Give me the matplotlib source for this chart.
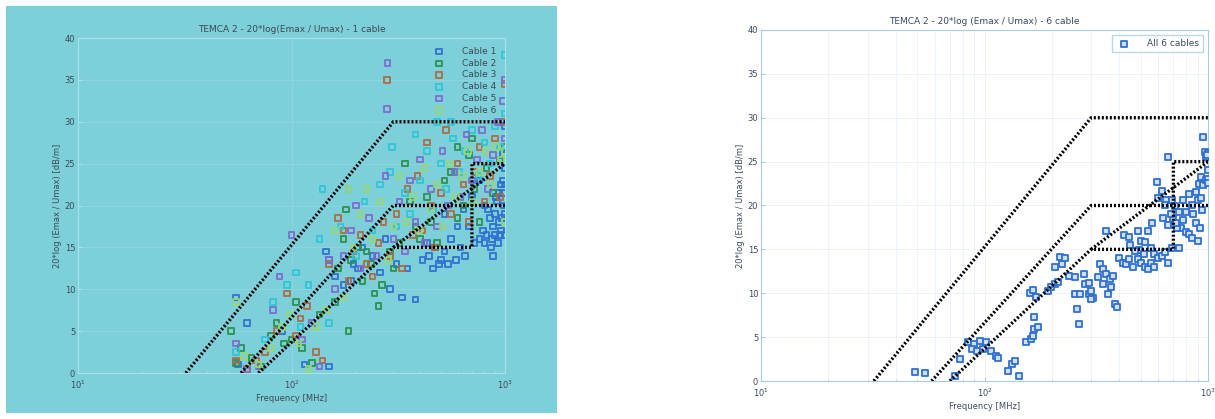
import matplotlib
matplotlib.use('Agg')
from matplotlib import pyplot as plt

# limit lines (frequency MHz, dB)
lim_a_f = [32, 300, 1000]
lim_a_db = [0, 30, 30]
lim_b_f = [58, 300, 1000]
lim_b_db = [0, 20, 20]
lim_c_f = [70, 300, 700, 700, 1000]
lim_c_db = [0, 15, 15, 25, 25]
lim_d_f = [300, 1000]
lim_d_db = [15, 25]

cable1 = [(55, 9.0), (56, 1.0), (62, 6.0), (90, 5.0), (115, 1.0), (150, 0.8), (145, 14.5), (150, 13.5),
          (160, 11.5), (175, 10.5), (190, 11.0), (195, 13.0), (205, 12.5), (215, 15.0), (240, 14.0),
          (260, 12.0), (275, 16.0), (290, 10.0), (310, 13.0), (330, 9.0), (350, 12.5), (380, 8.8),
          (410, 13.5), (440, 14.0), (470, 15.0), (490, 13.0), (520, 14.5), (540, 13.0), (560, 16.0),
          (590, 13.5), (620, 15.0), (650, 14.0), (680, 17.5), (720, 15.5), (760, 16.0), (790, 17.0),
          (820, 16.5), (850, 18.5), (880, 17.5), (900, 19.0), (920, 20.5), (940, 21.5), (960, 22.5),
          (980, 23.0), (1000, 24.5), (1000, 22.5), (990, 20.0), (970, 18.5), (950, 16.5), (930, 15.5),
          (870, 16.0), (830, 19.5), (800, 20.0), (980, 26.0), (1000, 29.5), (760, 23.0), (700, 21.0),
          (640, 19.5), (600, 17.5), (520, 19.0), (860, 15.0), (900, 16.5), (960, 17.0), (1000, 19.0),
          (940, 18.0), (910, 21.0), (980, 21.5), (1000, 16.5), (880, 14.0), (800, 15.5), (460, 12.5),
          (500, 13.5), (430, 15.5)]
cable2 = [(52, 5.0), (55, 1.2), (58, 3.0), (65, 1.8), (72, 0.8), (80, 4.5), (85, 6.0), (92, 3.5),
          (100, 4.0), (105, 8.5), (112, 3.0), (125, 1.2), (135, 7.0), (160, 8.5), (165, 12.5), (175, 16.0),
          (180, 19.5), (185, 5.0), (190, 13.5), (205, 15.0), (215, 11.0), (225, 14.5), (235, 13.0),
          (245, 9.5), (255, 8.0), (265, 10.5), (290, 14.5), (300, 12.5), (320, 15.5), (340, 25.0),
          (360, 20.5), (380, 17.5), (400, 16.0), (430, 21.0), (450, 18.0), (480, 15.5), (520, 23.0),
          (560, 24.0), (600, 18.5), (640, 20.0), (680, 26.0), (720, 22.0), (760, 18.0), (820, 24.5),
          (880, 21.5), (950, 25.5), (1000, 27.0), (700, 28.0), (600, 27.0)]
cable3 = [(55, 1.5), (62, 0.5), (68, 1.5), (75, 2.5), (85, 5.0), (95, 9.5), (105, 4.5), (110, 6.5),
          (118, 8.0), (130, 2.5), (140, 1.5), (150, 13.0), (165, 18.5), (175, 17.0), (185, 11.0),
          (195, 14.5), (210, 16.5), (225, 13.0), (240, 11.5), (255, 15.5), (270, 18.0), (280, 35.0),
          (290, 14.0), (310, 19.0), (330, 12.5), (350, 22.0), (370, 16.5), (390, 23.5), (410, 17.0),
          (430, 27.5), (450, 20.0), (470, 15.0), (500, 21.5), (530, 29.0), (560, 19.0), (600, 25.0),
          (640, 22.5), (680, 18.0), (720, 24.0), (760, 27.0), (800, 20.5), (850, 23.5), (900, 28.0),
          (950, 21.0), (1000, 34.5), (980, 30.0)]
cable4 = [(55, 2.5), (75, 4.0), (82, 8.5), (95, 10.5), (105, 12.0), (110, 5.5), (120, 10.5), (135, 16.0),
          (140, 22.0), (150, 6.0), (170, 17.5), (185, 22.0), (200, 14.0), (220, 20.5), (240, 17.0),
          (260, 22.5), (290, 24.0), (295, 27.0), (310, 17.5), (340, 21.5), (360, 19.0), (380, 28.5),
          (400, 23.0), (430, 26.5), (460, 19.5), (500, 25.0), (530, 22.0), (570, 28.0), (610, 24.0),
          (650, 26.5), (700, 29.0), (750, 23.5), (800, 27.5), (850, 25.0), (900, 29.5), (950, 27.0),
          (1000, 38.0), (1000, 31.0), (480, 30.0), (560, 30.0)]
cable5 = [(55, 3.5), (62, 0.3), (70, 0.8), (82, 7.5), (88, 11.5), (100, 16.5), (112, 4.0), (125, 6.0),
          (135, 0.8), (150, 13.5), (160, 10.0), (175, 14.0), (190, 17.0), (200, 20.0), (210, 12.5),
          (230, 18.5), (250, 14.0), (275, 23.5), (282, 37.0), (280, 31.5), (300, 16.0), (320, 20.5),
          (340, 14.5), (360, 23.0), (380, 18.0), (400, 25.5), (420, 15.5), (450, 22.0), (480, 17.5),
          (510, 26.5), (540, 20.0), (580, 24.0), (620, 21.0), (660, 28.5), (700, 23.0), (740, 25.5),
          (780, 29.0), (830, 22.0), (880, 26.0), (930, 30.0), (980, 32.5), (1000, 35.0), (1000, 28.0)]
cable6 = [(55, 8.5), (60, 2.0), (70, 1.0), (80, 3.0), (90, 5.5), (98, 7.0), (108, 3.5), (120, 0.5),
          (130, 5.5), (145, 7.5), (160, 17.0), (175, 9.0), (185, 22.0), (195, 15.0), (210, 19.0),
          (225, 22.0), (240, 16.0), (260, 20.5), (285, 13.5), (300, 17.5), (320, 23.5), (345, 18.0),
          (370, 21.0), (395, 17.0), (420, 24.5), (450, 19.5), (480, 22.5), (510, 17.5), (550, 25.0),
          (590, 21.0), (630, 23.5), (670, 26.5), (710, 20.5), (760, 24.0), (810, 26.5), (860, 22.5),
          (910, 27.0), (960, 25.5), (1000, 26.5), (1000, 18.0)]

cables = [cable1, cable2, cable3, cable4, cable5, cable6]
cable_names = ['Cable 1', 'Cable 2', 'Cable 3', 'Cable 4', 'Cable 5', 'Cable 6']
cable_colors = ['#2f6fd0', '#2a8f4a', '#b0683e', '#2cc6d8', '#7e6ad0', '#98d870']

all6 = [(49, 1.0), (54, 0.9), (74, 0.6), (78, 2.5),
        (84, 4.4), (90, 4.2), (95, 4.6), (102, 4.5), (88, 3.6), (93, 3.4), (98, 3.7),
        (107, 3.4), (113, 2.9), (115, 2.6),
        (128, 1.1), (133, 1.9), (137, 2.3), (142, 0.6),
        (153, 4.4), (161, 4.8), (164, 5.1), (167, 5.9), (173, 6.1), (166, 7.3),
        (160, 10.0), (165, 10.4), (170, 9.6),
        (192, 10.3), (198, 10.7), (206, 11.0), (214, 11.3),
        (206, 13.0), (218, 14.1), (222, 13.3), (229, 14.0), (238, 12.0), (255, 11.8),
        (260, 8.2), (265, 6.5),
        (255, 9.9), (268, 9.9), (278, 12.2), (283, 11.0), (292, 11.2), (292, 9.9), (300, 10.3),
        (305, 9.5), (300, 9.3),
        (322, 11.8), (327, 13.3), (340, 12.8), (350, 12.2), (363, 11.6), (340, 11.0), (356, 9.9),
        (368, 10.7), (375, 12.0), (382, 8.8), (391, 8.4),
        (350, 17.1), (420, 16.6), (443, 16.4), (485, 17.1), (500, 16.0), (541, 17.1), (490, 14.9),
        (519, 14.5), (555, 15.2), (575, 14.5),
        (400, 14.0), (415, 13.5), (430, 13.3), (445, 13.9), (460, 13.0), (485, 13.9), (500, 13.5),
        (520, 13.0), (540, 12.8), (555, 13.5), (575, 13.0), (600, 14.0), (620, 14.3), (645, 14.7),
        (665, 13.5),
        (590, 22.7), (620, 21.7), (650, 20.6), (640, 20.0), (690, 20.6), (710, 19.9), (740, 19.3),
        (770, 18.4), (760, 17.4), (795, 17.0), (820, 16.7), (850, 16.3), (800, 19.3), (770, 20.6),
        (730, 17.4), (665, 25.5), (690, 15.2), (740, 15.2),
        (950, 27.8), (965, 26.1), (980, 25.5), (930, 23.2), (915, 22.5), (948, 22.3), (983, 22.9),
        (883, 21.5), (900, 20.6), (930, 20.9), (851, 20.0), (820, 21.3),
        (1000, 26.0), (1000, 24.0), (1000, 23.0), (990, 25.8), (1000, 22.6),
        (700, 18.5), (720, 18.0), (680, 19.0), (660, 17.8), (630, 18.6), (600, 20.8), (560, 18.0),
        (450, 15.5), (470, 14.8), (520, 15.8), (880, 18.0), (900, 16.0), (920, 17.4), (860, 19.0),
        (940, 19.5)]

cyan = '#7dcfda'
W, H = 1215, 419
fig = plt.figure(figsize=(W / 100, H / 100), dpi=100)
# cyan panel behind the left chart
bg = fig.add_axes([6 / W, 6 / H, 551 / W, 407 / H], zorder=-10)
bg.set_facecolor(cyan)
bg.set_xticks([])
bg.set_yticks([])
for s in bg.spines.values():
    s.set_visible(False)

ax1 = fig.add_axes([78 / W, 46 / H, 427 / W, 335 / H])
ax2 = fig.add_axes([761 / W, 38 / H, 447 / W, 351 / H])


def draw_limits(ax):
    for f, d in [(lim_a_f, lim_a_db), (lim_b_f, lim_b_db), (lim_c_f, lim_c_db), (lim_d_f, lim_d_db)]:
        ax.plot(f, d, color='black', linestyle=(0, (0.6, 0.6)), linewidth=2.4, zorder=5)


def style_axes(ax, spine_color, text_color, title):
    ax.set_xscale('log')
    ax.set_xlim(10, 1000)
    ax.set_ylim(0, 40)
    ax.set_yticks(range(0, 41, 5))
    ax.tick_params(which='both', direction='in', labelsize=6, colors=spine_color,
                   labelcolor=text_color, length=3, pad=2)
    ax.tick_params(axis='x', which='both', pad=4)
    ax.tick_params(which='minor', length=1.5)
    for s in ax.spines.values():
        s.set_color(spine_color)
        s.set_linewidth(0.8)
    ax.set_title(title, fontsize=6.5, color=text_color, pad=4)
    ax.set_xlabel('Frequency [MHz]', fontsize=6, color=text_color, labelpad=2)
    ax.set_ylabel('20*log (Emax / Umax) [dB/m]', fontsize=6, color=text_color, labelpad=2)


# left panel
ax1.set_facecolor(cyan)
for pts, name, col in zip(cables, cable_names, cable_colors):
    ax1.scatter([p[0] for p in pts], [p[1] for p in pts], marker='s', s=16, facecolors='none',
                edgecolors=col, linewidths=1.4, label=name, zorder=3, alpha=0.9)
draw_limits(ax1)
style_axes(ax1, '#a6e2ec', '#3a4a55', 'TEMCA 2 - 20*log(Emax / Umax) - 1 cable')
ax1.grid(True, which='major', color='#92d8e2', linewidth=0.5)
leg = ax1.legend(loc='upper right', fontsize=6.5, frameon=False, handletextpad=1.5,
                 labelspacing=0.3, borderaxespad=0.6)
for t in leg.get_texts():
    t.set_color('#3a4a55')

# right panel
ax2.set_facecolor('white')
ax2.scatter([p[0] for p in all6], [p[1] for p in all6], marker='s', s=22, facecolors='#cfe0f5',
            edgecolors='#2f6fd0', linewidths=1.3, label='All 6 cables', zorder=3)
draw_limits(ax2)
style_axes(ax2, '#a8cce6', '#3a4a60', 'TEMCA 2 - 20*log (Emax / Umax) - 6 cable')
ax2.grid(True, which='both', color='#e6eff8', linewidth=0.5)
leg2 = ax2.legend(loc='upper right', fontsize=6.5, frameon=True, fancybox=False,
                  edgecolor='#a8cce6', handletextpad=1.5, borderaxespad=0.6)
for t in leg2.get_texts():
    t.set_color('#3a4a60')

fig.savefig('out.png', dpi=100)
